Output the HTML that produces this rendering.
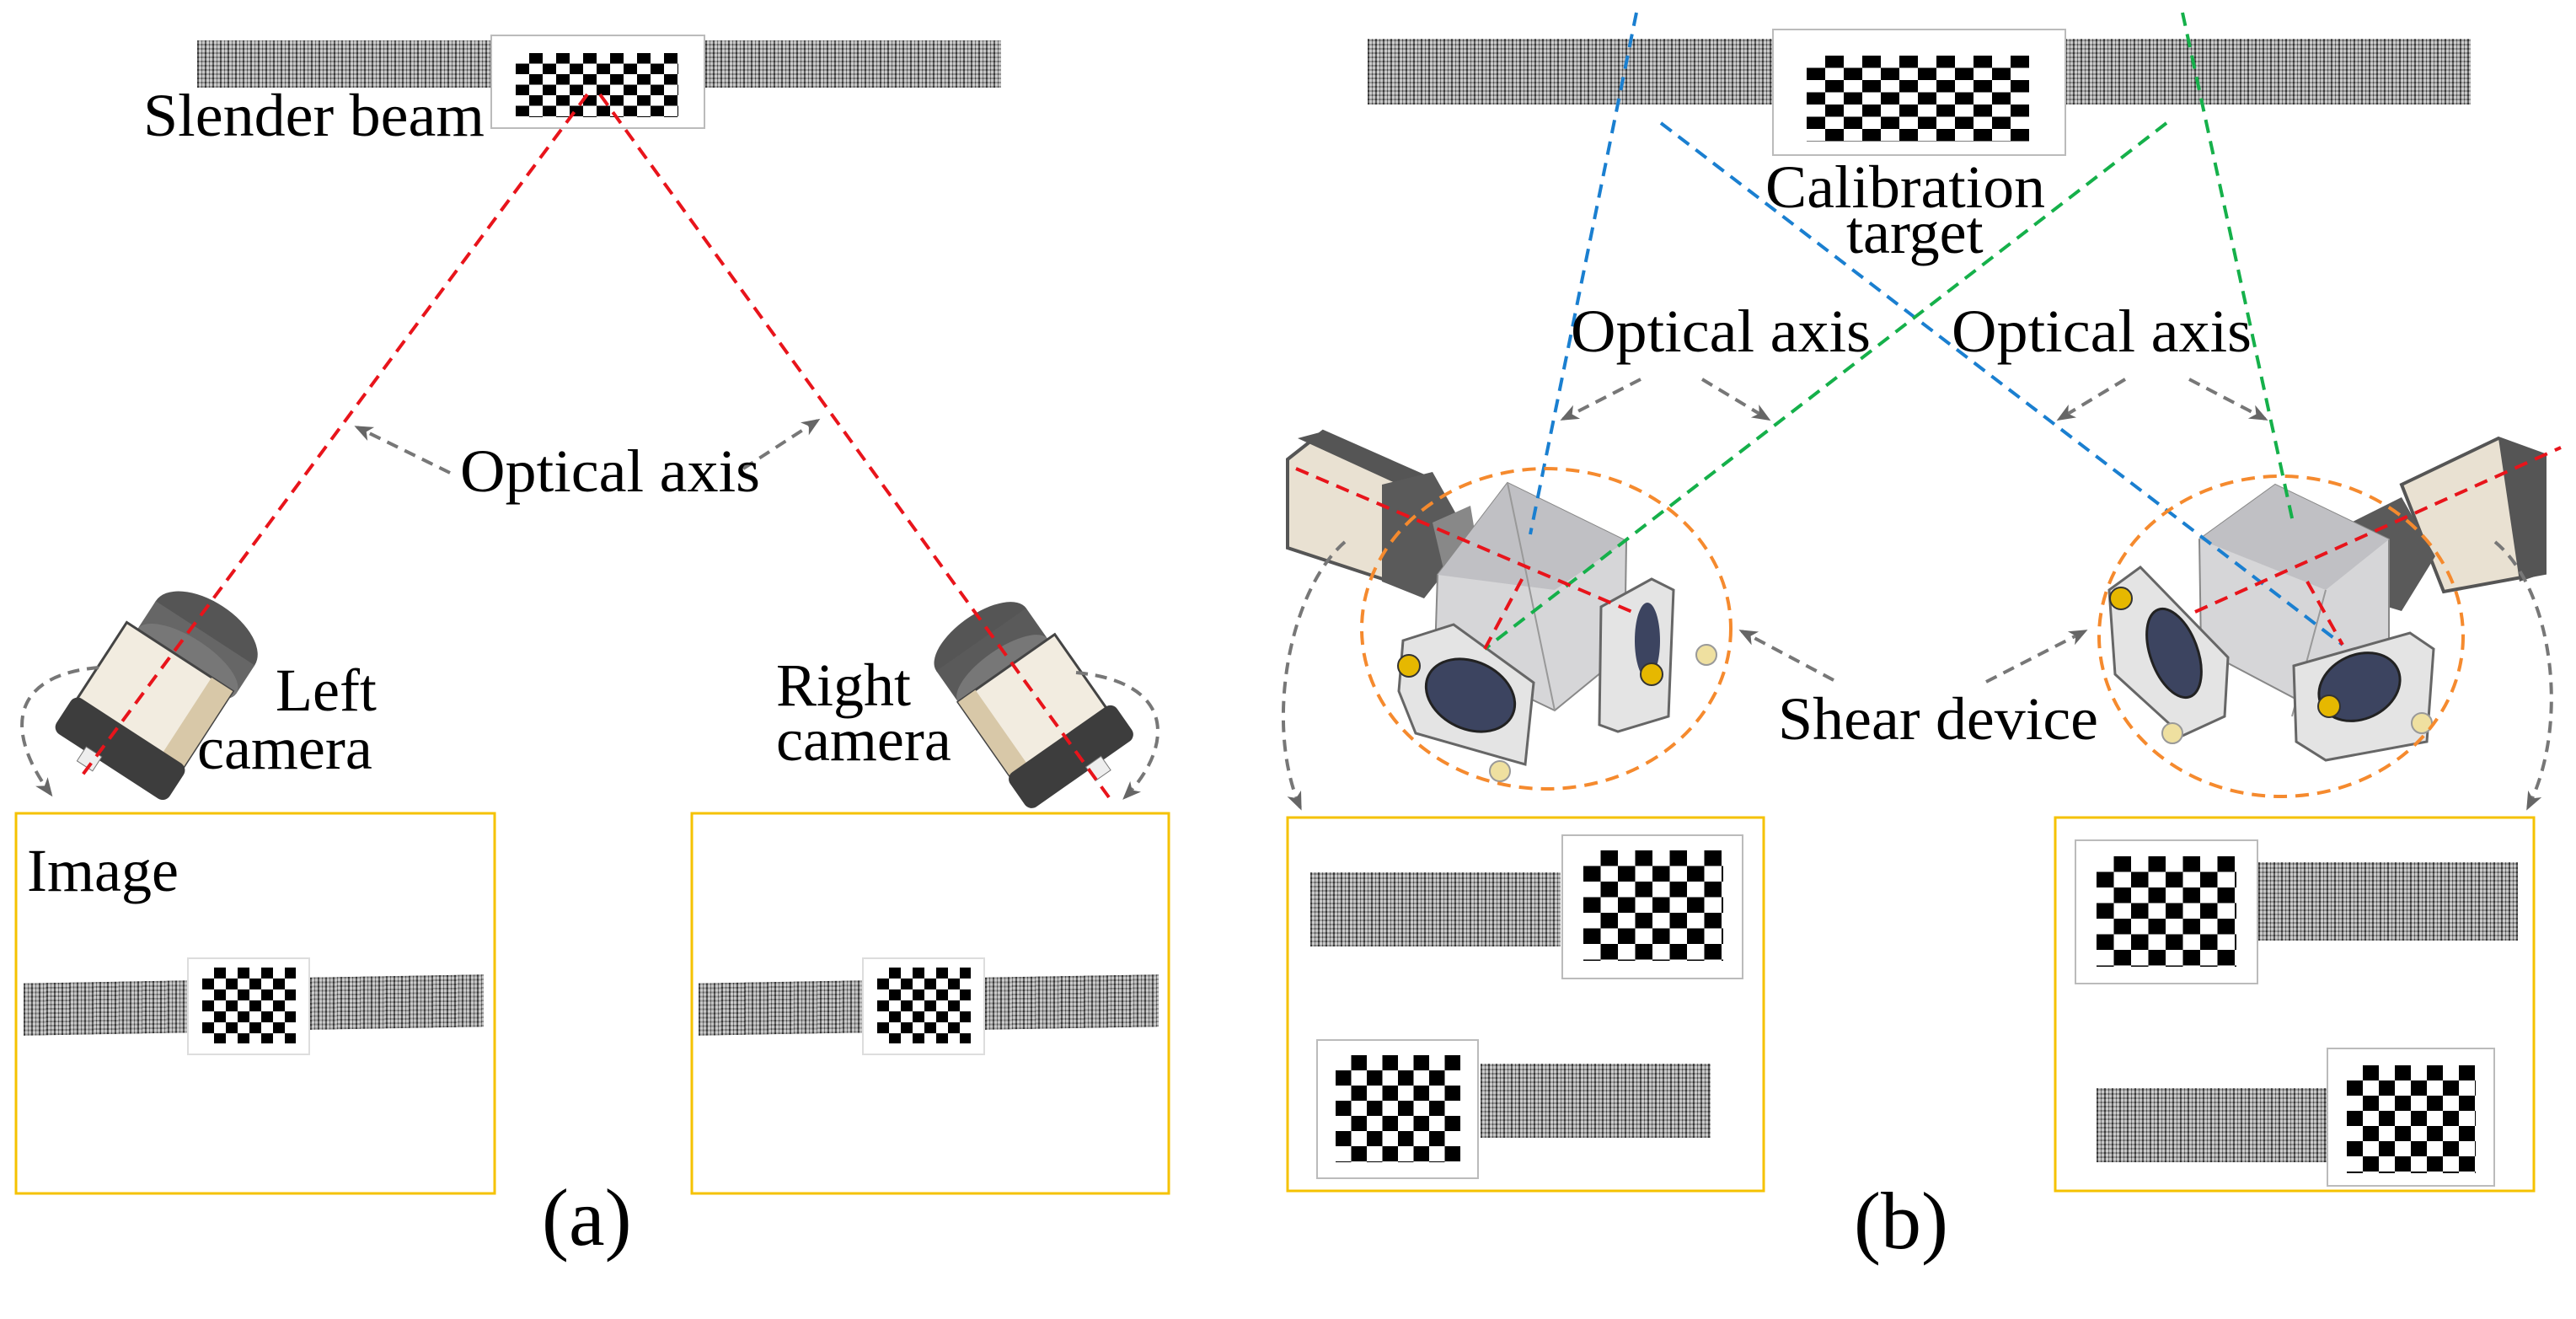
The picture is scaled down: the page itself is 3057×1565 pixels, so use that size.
<!DOCTYPE html>
<html><head><meta charset="utf-8">
<style>
html,body{margin:0;padding:0;background:#fff}
#c{position:relative;width:3057px;height:1565px;overflow:hidden;background:#fff}
.b{position:absolute;background-color:#8a8a8a;
background-image:repeating-linear-gradient(90deg,rgba(20,20,20,.5) 0 2px,rgba(235,235,235,.45) 2px 5px,rgba(40,40,40,.4) 5px 6px,rgba(230,230,230,.4) 6px 9px),repeating-linear-gradient(0deg,rgba(30,30,30,.45) 0 2px,rgba(240,240,240,.4) 2px 5px);}
.p{position:absolute;background:#fff;border:2px solid #bbb;box-sizing:border-box}
.k{position:absolute;background-image:conic-gradient(#000 0 25%,#fff 0 50%,#000 0 75%,#fff 0 100%);background-repeat:repeat}
svg{position:absolute;left:0;top:0}
text{font-family:"Liberation Serif",serif;fill:#000}
</style></head><body><div id="c">
<div class="b" style="left:234px;top:48px;width:954px;height:56px"></div>
<div class="p" style="left:582px;top:41px;width:255px;height:112px"></div>
<div class="k" style="left:612px;top:63px;width:193px;height:76px;background-size:32px 25px"></div>
<div class="b" style="left:28px;top:1165px;width:196px;height:62px;transform:skewY(-1deg)"></div>
<div class="b" style="left:368px;top:1158px;width:206px;height:62px;transform:skewY(-1deg)"></div>
<div class="p" style="left:222px;top:1136px;width:146px;height:116px;border-color:#ddd"></div>
<div class="k" style="left:240px;top:1148px;width:111px;height:90px;background-size:28px 26px"></div>
<div class="b" style="left:829px;top:1165px;width:196px;height:62px;transform:skewY(-1deg)"></div>
<div class="b" style="left:1169px;top:1158px;width:206px;height:62px;transform:skewY(-1deg)"></div>
<div class="p" style="left:1023px;top:1136px;width:146px;height:116px;border-color:#ddd"></div>
<div class="k" style="left:1041px;top:1148px;width:111px;height:90px;background-size:28px 26px"></div>
<div class="b" style="left:1623px;top:46px;width:1309px;height:78px"></div>
<div class="p" style="left:2103px;top:34px;width:349px;height:151px"></div>
<div class="k" style="left:2144px;top:66px;width:264px;height:102px;background-size:44px 29px"></div>
<div class="b" style="left:1555px;top:1035px;width:297px;height:88px"></div>
<div class="p" style="left:1853px;top:990px;width:216px;height:172px"></div>
<div class="k" style="left:1879px;top:1009px;width:166px;height:131px;background-size:41px 37px"></div>
<div class="p" style="left:1562px;top:1233px;width:193px;height:166px"></div>
<div class="k" style="left:1585px;top:1252px;width:148px;height:127px;background-size:37px 36px"></div>
<div class="b" style="left:1757px;top:1262px;width:273px;height:88px"></div>
<div class="p" style="left:2462px;top:996px;width:218px;height:172px"></div>
<div class="k" style="left:2488px;top:1016px;width:166px;height:131px;background-size:41px 37px"></div>
<div class="b" style="left:2680px;top:1023px;width:308px;height:93px"></div>
<div class="b" style="left:2488px;top:1291px;width:273px;height:88px"></div>
<div class="p" style="left:2761px;top:1243px;width:200px;height:165px"></div>
<div class="k" style="left:2785px;top:1264px;width:153px;height:128px;background-size:38px 36px"></div>

<svg width="3057" height="1565" viewBox="0 0 3057 1565">
<defs>
<marker id="ah2" markerWidth="22" markerHeight="22" refX="18" refY="11" orient="auto" markerUnits="userSpaceOnUse" viewBox="0 0 22 22"><path d="M0,2 L22,11 L0,20 L6,11z" fill="#666"/></marker>
</defs>
<g fill="none" stroke="#f5c200" stroke-width="3">
<rect x="19" y="965" width="568" height="451"/>
<rect x="821" y="965" width="566" height="451"/>
<rect x="1528" y="970" width="565" height="443"/>
<rect x="2439" y="970" width="568" height="443"/>
</g>

<g transform="translate(175,820) rotate(33)">
<ellipse cx="20" cy="-95" rx="70" ry="38" fill="#555"/>
<rect x="-50" y="-95" width="140" height="40" fill="#666"/>
<ellipse cx="20" cy="-55" rx="70" ry="28" fill="#777"/>
<rect x="-65" y="-55" width="150" height="110" fill="#f2ece0" stroke="#444" stroke-width="3"/>
<rect x="55" y="-55" width="30" height="110" fill="#d8c8a8"/>
<rect x="-70" y="50" width="160" height="50" rx="10" fill="#3d3d3d"/>
<rect x="-25" y="95" width="22" height="20" fill="#eee" stroke="#777"/>
</g>
<g transform="translate(1230,835) rotate(-35)">
<ellipse cx="-10" cy="-100" rx="65" ry="30" fill="#555"/>
<rect x="-75" y="-100" width="130" height="45" fill="#5a5a5a"/>
<ellipse cx="-10" cy="-55" rx="65" ry="25" fill="#777"/>
<rect x="-75" y="-55" width="140" height="110" fill="#f2ece0" stroke="#444" stroke-width="3"/>
<rect x="-75" y="-55" width="25" height="110" fill="#d8c8a8"/>
<rect x="-80" y="50" width="155" height="50" rx="10" fill="#3d3d3d"/>
<rect x="5" y="95" width="22" height="20" fill="#eee" stroke="#777"/>
</g>

<g>
<polygon points="1528,545 1570,512 1690,565 1650,690 1528,650" fill="#e9e1d2" stroke="#555" stroke-width="4"/>
<polygon points="1540,520 1570,512 1690,565 1660,575" fill="#555"/>
<polygon points="1640,575 1700,560 1745,640 1690,710 1640,690" fill="#5a5a5a"/>
<polygon points="1700,620 1745,600 1760,690 1720,705" fill="#888"/>
<polygon points="1706,682 1789,573 1930,642 1928,775 1845,843 1703,775" fill="#d6d6d8" stroke="#888" stroke-width="2"/>
<polygon points="1706,682 1789,573 1930,642 1845,700" fill="#c0c0c4"/>
<line x1="1789" y1="573" x2="1845" y2="843" stroke="#999" stroke-width="2"/>
<polygon points="1665,760 1725,741 1820,810 1810,907 1680,870 1660,820" fill="#e4e4e4" stroke="#666" stroke-width="3"/>
<ellipse cx="1745" cy="825" rx="55" ry="40" transform="rotate(25 1745 825)" fill="#3c4460" stroke="#222" stroke-width="3"/>
<polygon points="1900,720 1960,687 1986,700 1980,850 1920,868 1898,860" fill="#e4e4e4" stroke="#666" stroke-width="3"/>
<ellipse cx="1955" cy="760" rx="15" ry="45" fill="#3c4460"/>
<circle cx="1672" cy="790" r="13" fill="#e6b800" stroke="#333" stroke-width="2"/>
<circle cx="1960" cy="800" r="13" fill="#e6b800" stroke="#333" stroke-width="2"/>
<circle cx="2025" cy="777" r="12" fill="#efe0a0" stroke="#999" stroke-width="2"/>
<circle cx="1780" cy="915" r="12" fill="#efe0a0" stroke="#999" stroke-width="2"/>
</g>
<g>
<polygon points="2850,575 2965,520 3020,540 3020,680 2900,702" fill="#e9e1d2" stroke="#555" stroke-width="4"/>
<polygon points="2965,520 3020,540 3020,680 2990,690" fill="#555"/>
<polygon points="2790,620 2850,590 2890,660 2850,725 2800,710" fill="#5a5a5a"/>
<polygon points="2610,640 2700,575 2835,640 2835,780 2760,848 2612,770" fill="#d6d6d8" stroke="#888" stroke-width="2"/>
<polygon points="2610,640 2700,575 2835,640 2760,700" fill="#c0c0c4"/>
<line x1="2760" y1="700" x2="2720" y2="850" stroke="#999" stroke-width="2"/>
<polygon points="2503,700 2540,673 2644,780 2640,850 2590,873 2510,800" fill="#e4e4e4" stroke="#666" stroke-width="3"/>
<ellipse cx="2580" cy="775" rx="28" ry="55" transform="rotate(-20 2580 775)" fill="#3c4460" stroke="#222" stroke-width="3"/>
<polygon points="2722,790 2860,751 2888,770 2880,880 2760,902 2725,880" fill="#e4e4e4" stroke="#666" stroke-width="3"/>
<ellipse cx="2800" cy="815" rx="50" ry="38" transform="rotate(-25 2800 815)" fill="#3c4460" stroke="#222" stroke-width="3"/>
<circle cx="2517" cy="710" r="13" fill="#e6b800" stroke="#333" stroke-width="2"/>
<circle cx="2764" cy="838" r="13" fill="#e6b800" stroke="#333" stroke-width="2"/>
<circle cx="2578" cy="870" r="12" fill="#efe0a0" stroke="#999" stroke-width="2"/>
<circle cx="2874" cy="858" r="12" fill="#efe0a0" stroke="#999" stroke-width="2"/>
</g>

<g fill="none" stroke-width="4" stroke-dasharray="16,10">
<line x1="697" y1="112" x2="93" y2="926" stroke="#e8141b"/>
<line x1="712" y1="112" x2="1316" y2="946" stroke="#e8141b"/>
<line x1="1942" y1="15" x2="1816" y2="634" stroke="#1a7fd0"/>
<line x1="1971" y1="146" x2="2780" y2="765" stroke="#1a7fd0"/>
<line x1="2590" y1="15" x2="2722" y2="624" stroke="#15b04a"/>
<line x1="2571" y1="146" x2="1762" y2="770" stroke="#15b04a"/>
<line x1="1538" y1="556" x2="1937" y2="726" stroke="#e8141b"/>
<line x1="1762" y1="770" x2="1810" y2="680" stroke="#e8141b"/>
<line x1="2605" y1="726" x2="3039" y2="531" stroke="#e8141b"/>
<line x1="2738" y1="690" x2="2780" y2="765" stroke="#e8141b"/>
<ellipse cx="1835" cy="746" rx="219" ry="190" stroke="#f58a2e"/>
<ellipse cx="2707" cy="755" rx="216" ry="190" stroke="#f58a2e"/>
</g>

<g fill="none" stroke="#777" stroke-width="4" stroke-dasharray="14,9" marker-end="url(#ah2)">
<line x1="534" y1="561" x2="424" y2="507"/>
<line x1="882" y1="556" x2="970" y2="499"/>
<line x1="1947" y1="450" x2="1855" y2="497"/>
<line x1="2020" y1="450" x2="2098" y2="497"/>
<line x1="2522" y1="450" x2="2444" y2="497"/>
<line x1="2598" y1="450" x2="2688" y2="497"/>
<line x1="2176" y1="807" x2="2067" y2="749"/>
<line x1="2357" y1="809" x2="2474" y2="749"/>
<path d="M117,792 C20,800 0,860 60,942"/>
<path d="M1277,798 C1400,810 1390,890 1335,946"/>
<path d="M1596,643 C1530,700 1500,860 1543,958"/>
<path d="M2961,643 C3030,700 3050,860 3000,958"/>
</g>

<g font-size="72">
<text x="170" y="161" textLength="405" lengthAdjust="spacingAndGlyphs">Slender beam</text>
<text x="546" y="583" textLength="356" lengthAdjust="spacingAndGlyphs">Optical axis</text>
<text x="327" y="843">Left</text>
<text x="234" y="912">camera</text>
<text x="921" y="837">Right</text>
<text x="921" y="902">camera</text>
<text x="32" y="1057">Image</text>
<text x="2095" y="246" textLength="332" lengthAdjust="spacingAndGlyphs">Calibration</text>
<text x="2191" y="300">target</text>
<text x="1864" y="417" textLength="356" lengthAdjust="spacingAndGlyphs">Optical axis</text>
<text x="2316" y="417" textLength="356" lengthAdjust="spacingAndGlyphs">Optical axis</text>
<text x="2110" y="877" textLength="380" lengthAdjust="spacingAndGlyphs">Shear device</text>
</g>
<text x="643" y="1477" font-size="96">(a)</text>
<text x="2200" y="1481" font-size="96">(b)</text>
</svg>
</div></body></html>
